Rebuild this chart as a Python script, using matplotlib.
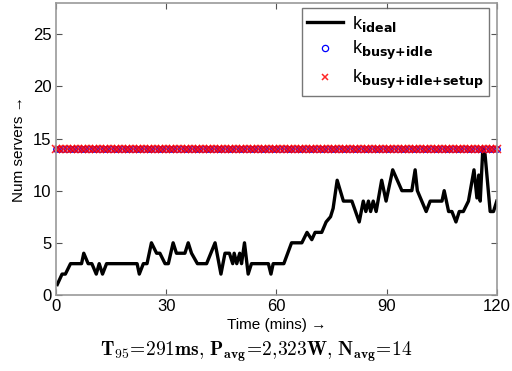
import numpy as np
import matplotlib.pyplot as plt

plt.rcParams['font.family'] = ['Liberation Sans', 'DejaVu Sans']
plt.rcParams['mathtext.fontset'] = 'cm'

# k_ideal trace (time in mins, number of servers)
t_ideal = [0.4, 1.7, 2.6, 4.0, 7.0, 7.6, 8.8, 9.8, 11.0, 11.8, 12.7, 13.8, 22.1, 22.7, 23.8,
           24.8, 26.0, 27.4, 28.3, 29.7, 30.6, 31.9, 32.8, 35.1, 36.0, 36.9, 38.5, 41.0,
           43.3, 44.9, 46.0, 47.2, 48.1, 48.5, 49.2, 50.0, 50.5, 51.3, 52.3, 53.2, 57.8,
           58.5, 59.1, 62.0, 64.1, 66.9, 68.3, 69.6, 70.5, 72.3, 73.5, 74.7, 75.4, 76.5,
           78.2, 80.5, 82.5, 83.6, 84.3, 85.0, 85.6, 86.3, 87.1, 88.6, 89.8, 91.6, 94.1,
           96.8, 97.7, 98.3, 99.5, 100.7, 101.8, 105.0, 105.6, 106.8, 107.7, 108.8, 109.7,
           110.8, 112.2, 113.7, 114.5, 115.0, 115.4, 116.1, 116.7, 118.1, 119.0, 119.9]
k_ideal = [1, 2, 2, 3, 3, 4, 3, 3, 2, 3, 2, 3, 3, 2, 3,
           3, 5, 4, 4, 3, 3, 5, 4, 4, 5, 4, 3, 3,
           5, 2, 4, 4, 3, 4, 3, 4, 3, 5, 2, 3, 3,
           2, 3, 3, 5, 5, 6, 5.3, 6, 6, 7, 7.5, 8.3, 11,
           9, 9, 7, 9, 8, 9, 8, 9, 8, 11, 9, 12, 10,
           10, 12, 10, 9, 8, 9, 9, 10, 8, 8, 7, 8,
           8, 9, 12, 9.3, 11.5, 9, 14, 13.5, 8, 8, 9]

# provisioned servers (constant), sampled every minute
t_prov = list(range(0, 121))
k_busy_idle = [14] * len(t_prov)
k_busy_idle_setup = [14] * len(t_prov)

fig = plt.figure(figsize=(5.12, 3.71), dpi=100)
ax = fig.add_axes([0.109, 0.205, 0.862, 0.787])

ax.plot(t_ideal, k_ideal, color='black', lw=2.4, label=r'k$_{\mathbf{ideal}}$')
ax.plot(t_prov, k_busy_idle, 'o', color='blue', mfc='none', ms=4, mew=0.9,
        clip_on=False, label=r'k$_{\mathbf{busy{+}idle}}$')
ax.plot(t_prov, k_busy_idle_setup, 'x', color='red', ms=5.5, mew=1.1, alpha=0.85,
        clip_on=False, label=r'k$_{\mathbf{busy{+}idle{+}setup}}$')

ax.set_xlim(0, 120)
ax.set_ylim(0, 28)
ax.set_xticks([0, 30, 60, 90, 120])
ax.set_yticks([0, 5, 10, 15, 20, 25])
ax.tick_params(direction='in', top=True, right=True, labelsize=12, length=4,
               color='#555555', pad=3)
for s in ax.spines.values():
    s.set_color('#999999')
    s.set_linewidth(1.2)

ax.set_xlabel('Time (mins) →', fontsize=11, labelpad=3)
ax.set_ylabel('Num servers →', fontsize=11, labelpad=5)

leg = ax.legend(loc='upper right', bbox_to_anchor=(0.982, 0.982), fontsize=13,
                frameon=True, fancybox=False, edgecolor='#555555', borderpad=0.3,
                labelspacing=0.3, handlelength=2.0, handletextpad=0.5,
                borderaxespad=0.0)
leg.get_frame().set_linewidth(1.0)
for txt in leg.get_texts():
    txt.set_math_fontfamily('dejavusans')
for h in leg.legend_handles[1:]:
    h.set_markersize(4.5)

fig.text(0.5, 0.02,
         r'$\mathbf{T_{95}\!=\!291ms{,}\ P_{avg}\!=\!2{,}323W{,}\ N_{avg}\!=\!14}$',
         ha='center', va='bottom', fontsize=14)

fig.savefig('out.png', dpi=100)
